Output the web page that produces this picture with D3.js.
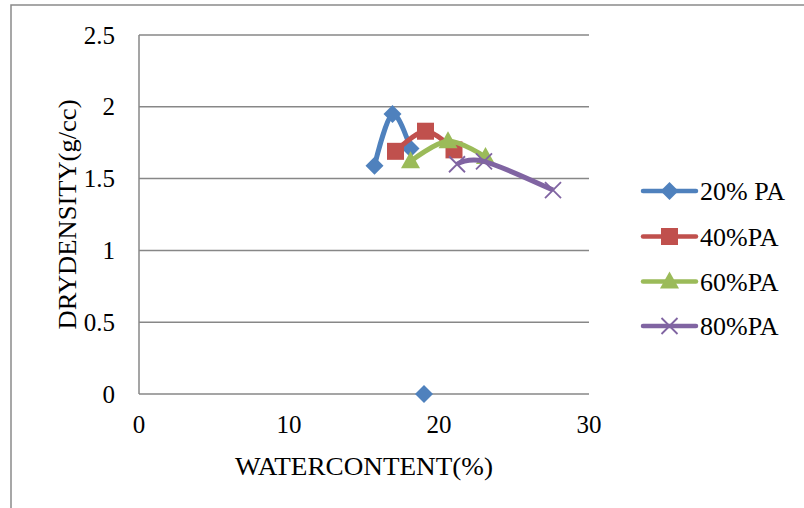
<!DOCTYPE html>
<html>
<head>
<meta charset="utf-8">
<script src="https://cdn.jsdelivr.net/npm/d3@7"></script>
<style>
  body { margin: 0; background: #fff; }
  svg text { font-family: "Liberation Serif", "DejaVu Serif", serif; fill: #000; }
</style>
</head>
<body>
<svg id="chart" width="804" height="508"></svg>
<script>
// Series: [water content %, dry density g/cc], null = gap
const pa20 = [[15.7, 1.59], [16.9, 1.95], [18.1, 1.71], null, [19.0, 0]];
const pa40 = [[17.1, 1.69], [19.1, 1.83], [21.0, 1.70]];
const pa60 = [[18.1, 1.62], [20.6, 1.76], [23.1, 1.65]];
const pa80 = [[21.2, 1.60], [23.0, 1.62], [27.6, 1.42]];

const seriesNames = ['20% PA', '40%PA', '60%PA', '80%PA'];
const seriesColors = ['#4F81BD', '#C0504D', '#9BBB59', '#8064A2'];
const seriesMarkers = ['diamond', 'square', 'triangle', 'x'];
const xTicks = [0, 10, 20, 30];
const yTicks = [0, 0.5, 1, 1.5, 2, 2.5];

const svg = d3.select('#chart');
const plot = { left: 139, right: 589, top: 35, bottom: 394 };
const serif = '"Liberation Serif", "DejaVu Serif", serif';

const x = d3.scaleLinear().domain([0, 30]).range([plot.left, plot.right]);
const y = d3.scaleLinear().domain([0, 2.5]).range([plot.bottom, plot.top]);

// Outer chart border (runs off the right and bottom edges)
svg.append('path')
    .attr('d', 'M11,520 L11,5 L820,5')
    .attr('fill', 'none')
    .attr('stroke', '#8a8a8a')
    .attr('stroke-width', 1.5);

// Gridlines
svg.append('g')
    .selectAll('line')
    .data(yTicks)
    .join('line')
    .attr('x1', plot.left)
    .attr('x2', plot.right)
    .attr('y1', d => y(d))
    .attr('y2', d => y(d))
    .attr('stroke', '#878787')
    .attr('stroke-width', 1.5);

// Left axis line
svg.append('line')
    .attr('x1', plot.left).attr('x2', plot.left)
    .attr('y1', plot.top).attr('y2', plot.bottom)
    .attr('stroke', '#878787')
    .attr('stroke-width', 1.5);

// Tick labels
svg.append('g')
    .selectAll('text')
    .data(yTicks)
    .join('text')
    .attr('x', 115)
    .attr('y', d => y(d) + 8.5)
    .attr('text-anchor', 'end')
    .attr('font-family', serif)
    .attr('font-size', 25)
    .text(d => d);

svg.append('g')
    .selectAll('text')
    .data(xTicks)
    .join('text')
    .attr('x', d => x(d))
    .attr('y', 433)
    .attr('text-anchor', 'middle')
    .attr('font-family', serif)
    .attr('font-size', 25)
    .text(d => d);

// Axis titles
svg.append('text')
    .attr('x', (plot.left + plot.right) / 2)
    .attr('y', 475)
    .attr('text-anchor', 'middle')
    .attr('font-family', serif)
    .attr('font-size', 26)
    .attr('textLength', 258)
    .attr('lengthAdjust', 'spacingAndGlyphs')
    .text('WATERCONTENT(%)');

svg.append('text')
    .attr('transform', `translate(76,${(plot.top + plot.bottom) / 2}) rotate(-90)`)
    .attr('text-anchor', 'middle')
    .attr('font-family', serif)
    .attr('font-size', 26)
    .attr('textLength', 230)
    .attr('lengthAdjust', 'spacingAndGlyphs')
    .text('DRYDENSITY(g/cc)');

// Marker shapes
function markerPath(type) {
    switch (type) {
        case 'diamond': return 'M0,-9L9,0L0,9L-9,0Z';
        case 'square': return 'M-8.5,-8.5H8.5V8.5H-8.5Z';
        case 'triangle': return 'M0,-10L9.5,7L-9.5,7Z';
        case 'x': return 'M-8,-8L8,8M-8,8L8,-8';
    }
}

function drawMarker(g, type, color, cx, cy) {
    const p = g.append('path')
        .attr('transform', `translate(${cx},${cy})`)
        .attr('d', markerPath(type));
    if (type === 'x') {
        p.attr('fill', 'none').attr('stroke', color).attr('stroke-width', 1.8);
    } else {
        p.attr('fill', color);
    }
}

const line = d3.line()
    .defined(d => d !== null)
    .x(d => x(d[0]))
    .y(d => y(d[1]))
    .curve(d3.curveCardinal.tension(0));

const allSeries = [pa20, pa40, pa60, pa80];

allSeries.forEach((data, i) => {
    const g = svg.append('g');
    g.append('path')
        .attr('d', line(data))
        .attr('fill', 'none')
        .attr('stroke', seriesColors[i])
        .attr('stroke-width', 5)
        .attr('stroke-linejoin', 'round');
    data.filter(d => d !== null).forEach(d => {
        drawMarker(g, seriesMarkers[i], seriesColors[i], x(d[0]), y(d[1]));
    });
});

// Legend
const legendY = [191, 236.5, 281.5, 326];
seriesNames.forEach((name, i) => {
    const g = svg.append('g');
    g.append('line')
        .attr('x1', 643).attr('x2', 696)
        .attr('y1', legendY[i]).attr('y2', legendY[i])
        .attr('stroke', seriesColors[i])
        .attr('stroke-width', 4.5)
        .attr('stroke-linecap', 'round');
    drawMarker(g, seriesMarkers[i], seriesColors[i], 669.5, legendY[i]);
    g.append('text')
        .attr('x', 700)
        .attr('y', legendY[i] + 9)
        .attr('font-family', serif)
        .attr('font-size', 26)
        .text(name);
});
</script>
</body>
</html>
